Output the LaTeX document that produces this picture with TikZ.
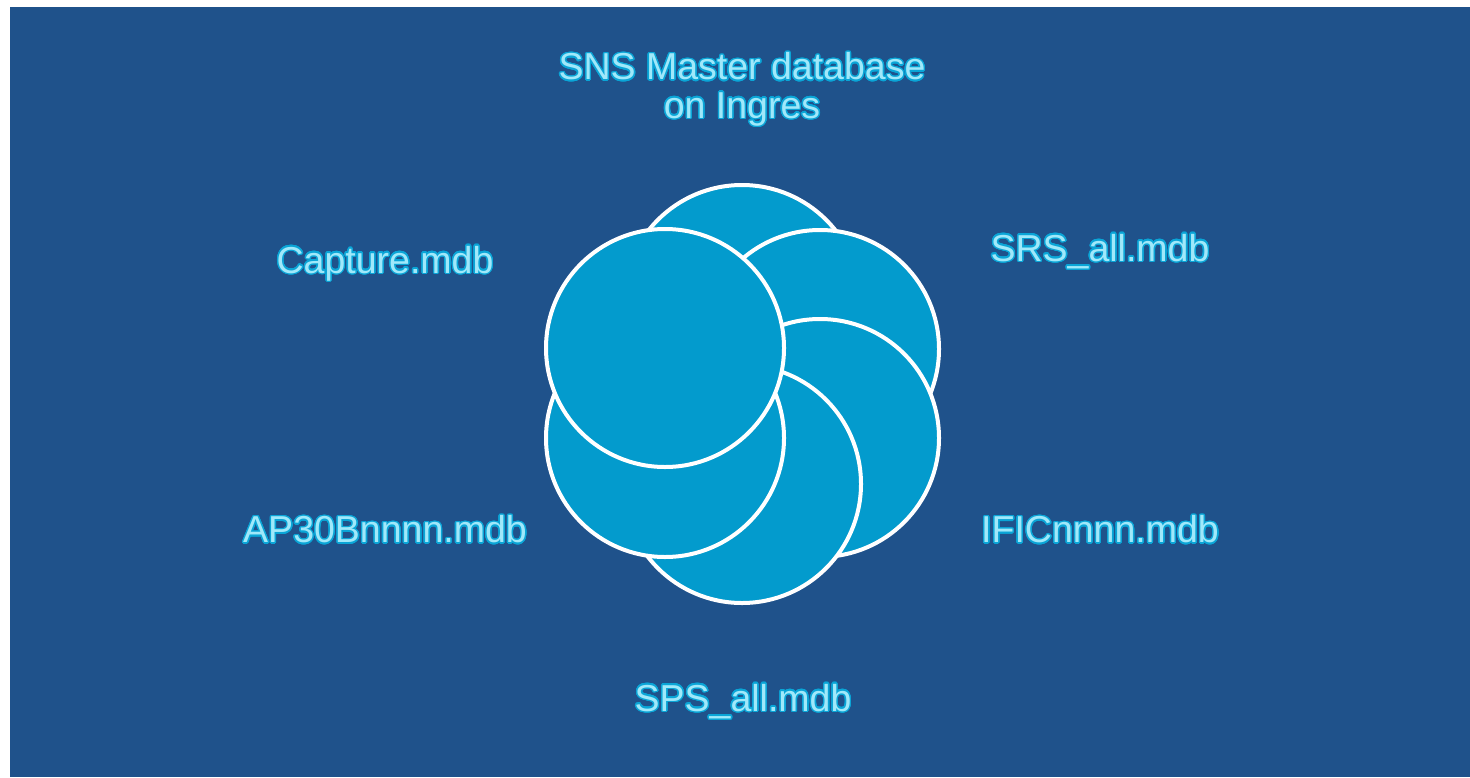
\documentclass[tikz,border=0pt]{standalone}
\usepackage{fontspec}
\setmainfont{Liberation Sans}
\usepackage{contour}
\contourlength{1.4pt}
\contournumber{24}
\definecolor{bgblue}{RGB}{31,82,139}
\definecolor{disc}{RGB}{3,155,205}
\definecolor{glow}{RGB}{10,165,215}
\definecolor{txt}{RGB}{160,232,250}
\newcommand{\gl}[1]{\contour{glow}{#1}}
\tikzset{
  disk/.style={circle, draw=white, line width=4bp, fill=disc, minimum size=238bp, inner sep=0pt},
  lbl/.style={text=txt, font=\fontsize{37.5bp}{38.5bp}\selectfont, align=center, inner sep=0pt}
}
\begin{document}
\begin{tikzpicture}[x=1bp,y=-1bp]
\useasboundingbox (0,0) rectangle (1470,777);
\fill[white] (0,0) rectangle (1470,777);
\fill[bgblue] (10,7) rectangle (1470,777);
% circles in stacking order
\node[disk] (ctop) at (742,304) {};
\node[disk] (ctr) at (820,349) {};
\node[disk] (cbr) at (820,438) {};
\node[disk] (cbot) at (742,484) {};
\node[disk] (cbl) at (665,438) {};
\node[disk] (ctl) at (665,348) {};
% labels
\node[lbl] (master) at (742,90) {\gl{SNS Master database}\\\gl{on Ingres}};
\node[lbl] (capture) at (385,264) {\gl{Capture.mdb}};
\node[lbl] (srs) at (1100,252) {\gl{SRS\_all.mdb}};
\node[lbl] (ap30) at (385,530) {\gl{AP30Bnnnn.mdb}};
\node[lbl] (ific) at (1100,530) {\gl{IFICnnnn.mdb}};
\node[lbl] (sps) at (743,702) {\gl{SPS\_all.mdb}};
\end{tikzpicture}
\end{document}
